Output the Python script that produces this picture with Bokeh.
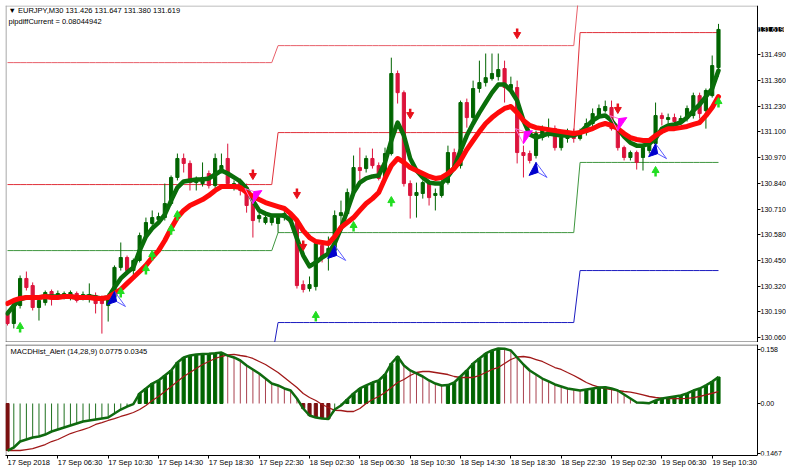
import datetime as dt
from bokeh.plotting import figure
from bokeh.models import Range1d, FixedTicker, NumeralTickFormatter, Label, ColumnDataSource
from bokeh.layouts import column
from bokeh.embed import file_html
from bokeh.resources import INLINE

# ---------------- data ----------------
symbol_title = "\u25BC EURJPY,M30  131.426 131.647 131.380 131.619"
pipdiff_title = "pipdiffCurrent = 0.08044942"
macd_title = "MACDHist_Alert (14,28,9)  0.0775 0.0345"
current_price = 131.619
start_time = dt.datetime(2018, 9, 17, 2, 30)

opens = [130.182, 130.131, 130.222, 130.359, 130.323, 130.212, 130.237, 130.293, 130.268, 130.263,
         130.263, 130.283, 130.258, 130.258, 130.273, 130.258, 130.222, 130.263, 130.415, 130.465,
         130.399, 130.450, 130.576, 130.637, 130.657, 130.667, 130.738, 130.870, 130.966, 130.941,
         130.844, 130.839, 130.890, 130.829, 130.905, 130.966, 130.824, 130.850, 130.819, 130.753,
         130.662, 130.642, 130.642, 130.637, 130.667, 130.687, 130.642, 130.328, 130.308, 130.318,
         130.526, 130.475, 130.500, 130.677, 130.687, 130.794, 130.920, 130.915, 130.966, 130.930,
         130.865, 130.991, 131.396, 131.299, 130.839, 130.779, 130.789, 130.844, 130.779, 130.779,
         130.844, 130.996, 130.930, 131.249, 131.173, 131.320, 131.350, 131.370, 131.380, 131.421,
         131.320, 131.325, 130.996, 130.991, 130.981, 131.072, 131.097, 131.117, 131.021, 131.067,
         131.097, 131.067, 131.097, 131.143, 131.183, 131.208, 131.224, 131.117, 131.021, 130.971,
         130.996, 130.971, 131.006, 131.041, 131.183, 131.163, 131.173, 131.153, 131.168, 131.183,
         131.284, 131.208, 131.284, 131.426]
highs = [130.197, 130.248, 130.374, 130.394, 130.339, 130.263, 130.298, 130.303, 130.298, 130.293,
         130.298, 130.293, 130.293, 130.334, 130.288, 130.273, 130.283, 130.425, 130.541, 130.475,
         130.460, 130.591, 130.667, 130.703, 130.692, 130.839, 130.880, 130.991, 130.991, 130.956,
         130.875, 130.946, 130.905, 130.991, 130.991, 131.041, 130.855, 130.865, 130.839, 130.768,
         130.703, 130.682, 130.677, 130.682, 130.703, 130.698, 130.652, 130.349, 130.369, 130.546,
         130.536, 130.571, 130.703, 130.753, 130.814, 130.981, 131.021, 130.981, 131.016, 130.946,
         131.021, 131.476, 131.411, 131.310, 130.855, 130.844, 130.855, 130.855, 130.814, 130.855,
         131.031, 131.016, 131.259, 131.269, 131.360, 131.461, 131.497, 131.497, 131.497, 131.461,
         131.380, 131.360, 131.031, 131.006, 131.107, 131.133, 131.168, 131.133, 131.092, 131.117,
         131.117, 131.117, 131.168, 131.219, 131.239, 131.259, 131.259, 131.133, 131.031, 131.006,
         131.006, 131.041, 131.057, 131.249, 131.198, 131.193, 131.193, 131.183, 131.234, 131.299,
         131.299, 131.320, 131.487, 131.647]
lows = [130.121, 130.106, 130.207, 130.298, 130.197, 130.146, 130.222, 130.222, 130.253, 130.253,
        130.248, 130.237, 130.248, 130.237, 130.182, 130.080, 130.141, 130.248, 130.399, 130.384,
        130.374, 130.440, 130.561, 130.622, 130.637, 130.652, 130.728, 130.855, 130.895, 130.804,
        130.804, 130.824, 130.814, 130.814, 130.895, 130.824, 130.804, 130.779, 130.692, 130.566,
        130.642, 130.632, 130.627, 130.591, 130.652, 130.627, 130.308, 130.288, 130.293, 130.298,
        130.440, 130.399, 130.485, 130.617, 130.677, 130.784, 130.855, 130.895, 130.915, 130.855,
        130.855, 130.981, 131.244, 130.824, 130.662, 130.667, 130.763, 130.728, 130.703, 130.768,
        130.834, 130.905, 130.915, 131.122, 131.158, 131.299, 131.330, 131.360, 131.360, 131.249,
        131.299, 130.941, 130.870, 130.941, 130.966, 131.057, 131.072, 131.006, 131.006, 131.046,
        131.046, 131.057, 131.082, 131.128, 131.168, 131.198, 131.107, 131.006, 130.956, 130.956,
        130.910, 130.905, 130.991, 131.026, 131.133, 131.143, 131.138, 131.138, 131.153, 131.168,
        131.168, 131.117, 131.274, 131.380]
closes = [130.131, 130.232, 130.359, 130.313, 130.212, 130.248, 130.288, 130.258, 130.283, 130.283,
          130.288, 130.248, 130.278, 130.278, 130.232, 130.232, 130.268, 130.415, 130.465, 130.399,
          130.450, 130.576, 130.642, 130.667, 130.672, 130.738, 130.870, 130.966, 130.941, 130.844,
          130.860, 130.870, 130.829, 130.966, 130.930, 130.839, 130.839, 130.804, 130.728, 130.652,
          130.677, 130.667, 130.667, 130.667, 130.687, 130.642, 130.323, 130.303, 130.328, 130.536,
          130.465, 130.511, 130.677, 130.692, 130.794, 130.920, 130.905, 130.966, 130.930, 130.865,
          130.991, 131.396, 131.299, 130.839, 130.779, 130.794, 130.844, 130.768, 130.789, 130.844,
          130.996, 130.915, 131.249, 131.173, 131.320, 131.350, 131.375, 131.396, 131.416, 131.325,
          131.340, 130.996, 130.981, 130.956, 131.092, 131.122, 131.107, 131.021, 131.072, 131.082,
          131.067, 131.097, 131.143, 131.193, 131.219, 131.229, 131.117, 131.021, 130.971, 130.996,
          130.946, 131.021, 131.041, 131.183, 131.168, 131.173, 131.153, 131.168, 131.219, 131.284,
          131.193, 131.310, 131.436, 131.619]

fast_ma = [130.182, 130.222, 130.253, 130.263, 130.263, 130.263, 130.268, 130.268, 130.268, 130.268,
           130.268, 130.263, 130.263, 130.268, 130.263, 130.258, 130.263, 130.313, 130.359, 130.389,
           130.415, 130.500, 130.571, 130.612, 130.642, 130.682, 130.753, 130.819, 130.850, 130.855,
           130.860, 130.860, 130.865, 130.885, 130.905, 130.890, 130.870, 130.850, 130.814, 130.753,
           130.703, 130.687, 130.677, 130.677, 130.677, 130.652, 130.561, 130.475, 130.420, 130.440,
           130.465, 130.485, 130.536, 130.612, 130.703, 130.794, 130.844, 130.865, 130.875, 130.880,
           130.946, 131.057, 131.148, 131.082, 130.966, 130.905, 130.870, 130.844, 130.839, 130.839,
           130.875, 130.920, 131.006, 131.082, 131.143, 131.198, 131.249, 131.299, 131.340, 131.340,
           131.310, 131.259, 131.158, 131.087, 131.072, 131.082, 131.092, 131.087, 131.082, 131.082,
           131.082, 131.097, 131.128, 131.158, 131.178, 131.183, 131.158, 131.117, 131.077, 131.046,
           131.031, 131.031, 131.041, 131.067, 131.117, 131.133, 131.138, 131.148, 131.173, 131.208,
           131.239, 131.279, 131.320, 131.411]
slow_ma = [130.232, 130.248, 130.258, 130.263, 130.263, 130.263, 130.268, 130.263, 130.263, 130.268,
           130.268, 130.263, 130.263, 130.263, 130.258, 130.258, 130.263, 130.283, 130.303, 130.334,
           130.364, 130.394, 130.425, 130.465, 130.500, 130.551, 130.612, 130.667, 130.703, 130.728,
           130.743, 130.758, 130.779, 130.804, 130.824, 130.824, 130.824, 130.819, 130.794, 130.774,
           130.758, 130.743, 130.733, 130.723, 130.713, 130.687, 130.652, 130.601, 130.566, 130.546,
           130.541, 130.536, 130.571, 130.617, 130.642, 130.667, 130.703, 130.738, 130.763, 130.794,
           130.865, 130.930, 130.966, 130.946, 130.920, 130.905, 130.890, 130.875, 130.865, 130.870,
           130.890, 130.915, 130.956, 131.011, 131.057, 131.102, 131.143, 131.173, 131.198, 131.219,
           131.229, 131.198, 131.158, 131.133, 131.122, 131.117, 131.112, 131.107, 131.102, 131.097,
           131.092, 131.097, 131.107, 131.117, 131.133, 131.143, 131.133, 131.117, 131.092, 131.072,
           131.062, 131.057, 131.057, 131.082, 131.102, 131.117, 131.117, 131.122, 131.128, 131.138,
           131.148, 131.183, 131.224, 131.279]

# daily channel levels (one value per trading day shown)
upper_far = [131.451, 131.537, 131.870]
upper_near = [130.834, 131.097, 131.603]
lower_near = [130.500, 130.591, 130.946]
lower_far = [129.950, 130.136, 130.399]

up_arrow_bars = [2, 18, 22, 23, 26, 27, 49, 55, 61, 103, 113]
up_arrow_prices = [130.106, 130.283, 130.399, 130.470, 130.601, 130.672, 130.162, 130.617, 130.743, 130.895, 131.244]
down_arrow_bars = [39, 46, 47, 64, 81, 97]
down_arrow_prices = [130.890, 130.794, 130.531, 131.198, 131.603, 131.224]
buy_signal_bars = [17, 52, 84, 103]
buy_signal_prices = [130.293, 130.526, 130.946, 131.041]
sell_signal_bars = [39, 82, 97]
sell_signal_prices = [130.738, 131.041, 131.107]

macd = [-0.1375, -0.1287, -0.1112, -0.1053, -0.0995, -0.0966, -0.0907, -0.0819, -0.0761, -0.0702,
        -0.0644, -0.0585, -0.0527, -0.0497, -0.0468, -0.0439, -0.0410, -0.0293, -0.0176, -0.0088,
        -0.0020, 0.0293, 0.0439, 0.0585, 0.0673, 0.0819, 0.0966, 0.1200, 0.1346, 0.1404,
        0.1434, 0.1445, 0.1455, 0.1470, 0.1492, 0.1400, 0.1346, 0.1258, 0.1112, 0.0995,
        0.0878, 0.0731, 0.0585, 0.0527, 0.0439, 0.0380, 0.0146, -0.0146, -0.0351, -0.0410,
        -0.0439, -0.0450, -0.0176, -0.0059, 0.0117, 0.0293, 0.0439, 0.0527, 0.0614, 0.0673,
        0.0848, 0.1170, 0.1375, 0.1112, 0.0966, 0.0878, 0.0790, 0.0673, 0.0585, 0.0527,
        0.0540, 0.0614, 0.0790, 0.0966, 0.1170, 0.1317, 0.1463, 0.1551, 0.1609, 0.1600,
        0.1551, 0.1346, 0.1141, 0.0966, 0.0848, 0.0731, 0.0644, 0.0556, 0.0497, 0.0439,
        0.0410, 0.0380, 0.0410, 0.0439, 0.0468, 0.0478, 0.0439, 0.0380, 0.0263, 0.0146,
        0.0030, 0.0020, 0.0010, 0.0088, 0.0146, 0.0176, 0.0205, 0.0234, 0.0293, 0.0380,
        0.0439, 0.0530, 0.0640, 0.0775]
signal = [-0.1375, -0.1375, -0.1375, -0.1346, -0.1317, -0.1258, -0.1200, -0.1112, -0.1053, -0.0966,
          -0.0878, -0.0819, -0.0761, -0.0702, -0.0614, -0.0556, -0.0497, -0.0439, -0.0380, -0.0322,
          -0.0263, -0.0176, -0.0059, 0.0088, 0.0205, 0.0351, 0.0497, 0.0644, 0.0790, 0.0907,
          0.1024, 0.1141, 0.1229, 0.1317, 0.1375, 0.1420, 0.1434, 0.1404, 0.1375, 0.1317,
          0.1229, 0.1141, 0.1024, 0.0907, 0.0761, 0.0614, 0.0468, 0.0293, 0.0176, 0.0088,
          -0.0029, -0.0117, -0.0200, -0.0205, -0.0234, -0.0234, -0.0146, 0.0000, 0.0117, 0.0205,
          0.0322, 0.0468, 0.0614, 0.0702, 0.0819, 0.0907, 0.0936, 0.0936, 0.0907, 0.0878,
          0.0848, 0.0790, 0.0761, 0.0761, 0.0761, 0.0819, 0.0907, 0.0995, 0.1053, 0.1170,
          0.1287, 0.1360, 0.1375, 0.1346, 0.1287, 0.1229, 0.1141, 0.1053, 0.0995, 0.0907,
          0.0820, 0.0720, 0.0614, 0.0540, 0.0480, 0.0439, 0.0410, 0.0380, 0.0351, 0.0330,
          0.0293, 0.0250, 0.0205, 0.0176, 0.0160, 0.0146, 0.0140, 0.0140, 0.0150, 0.0170,
          0.0205, 0.0250, 0.0300, 0.0345]

price_ticks = [130.060, 130.190, 130.320, 130.450, 130.580, 130.710, 130.840, 130.970,
               131.100, 131.230, 131.360, 131.490]
macd_ticks = [0.158, 0.0, -0.1467]
macd_tick_labels = ["0.158", "0.00", "0.1467"]
date_tick_bars = [0, 8, 16, 24, 32, 40, 48, 56, 64, 72, 80, 88, 96, 104, 112]
date_tick_labels = ["17 Sep 2018", "17 Sep 06:30", "17 Sep 10:30", "17 Sep 14:30", "17 Sep 18:30",
                    "17 Sep 22:30", "18 Sep 02:30", "18 Sep 06:30", "18 Sep 10:30", "18 Sep 14:30",
                    "18 Sep 18:30", "18 Sep 22:30", "19 Sep 02:30", "19 Sep 06:30", "19 Sep 10:30"]

# ---------------- layout / style ----------------
FONT = "Liberation Sans"
FS = "7.5px"
FS_SCALE = "7px"
W = 786
LEFT, TOP = 5, 5
H1 = 342            # main panel: frame y 5..342
H2 = 132            # indicator panel: frame y 344..455 + date axis
X0 = -0.32          # bar coordinate at the left border
X_AXIS = 119.2      # bar coordinate where the price scale sits (x = 757)
FRAME_W = W - LEFT  # plot area runs to the page edge; the price scale is drawn inside it
PX_X = (X_AXIS - X0) / 752.0
XR = X0 + FRAME_W * PX_X
P0, P1 = 130.035, 131.740
M0, M1 = -0.1521, 0.1726
PX_Y = (P1 - P0) / (H1 - TOP)
PX_M = (M1 - M0) / 111.0

n = len(closes)
bars = list(range(n))
times = [start_time + dt.timedelta(minutes=30 * i) for i in bars]
day_index = [(t.date() - times[0].date()).days for t in times]

x_range = Range1d(X0, XR)


def style_axis(ax, size):
    ax.axis_line_color = "black"
    ax.major_tick_line_color = "black"
    ax.major_tick_out = 3
    ax.major_tick_in = 0
    ax.minor_tick_out = 0
    ax.minor_tick_in = 0
    ax.major_label_standoff = 0
    ax.major_label_text_font = FONT
    ax.major_label_text_font_size = size
    ax.major_label_text_color = "black"


p = figure(width=W, height=H1, x_range=x_range, y_range=Range1d(P0, P1),
           output_backend="svg", toolbar_location=None,
           x_axis_location=None, y_axis_location="right",
           min_border_left=LEFT, min_border_top=TOP, min_border_bottom=0, min_border_right=0)
p.grid.visible = False
p.outline_line_color = None
ya = p.yaxis[0]
ya.ticker = FixedTicker(ticks=price_ticks)
ya.formatter = NumeralTickFormatter(format="0.000")
ya.fixed_location = X_AXIS
style_axis(ya, FS_SCALE)

# chart borders
p.segment(x0=[X0 + 0.5 * PX_X, X0, X0], x1=[X0 + 0.5 * PX_X, X_AXIS, X_AXIS],
          y0=[P0, P1 - 0.5 * PX_Y, P0 + 0.5 * PX_Y], y1=[P1, P1 - 0.5 * PX_Y, P0 + 0.5 * PX_Y],
          line_color=["#8c8c8c", "#a8a8a8", "#505050"], line_width=1)

# daily channel lines
for levels, colr in [(upper_far, "#e8606a"), (upper_near, "#e0303a"),
                     (lower_near, "#3f963f"), (lower_far, "#1c1cc0")]:
    p.line(bars, [levels[d] for d in day_index], line_color=colr, line_width=1)

# candles
is_up = [c >= o for o, c in zip(opens, closes)]
cs = ColumnDataSource(dict(
    x=bars, h=highs, l=lows,
    top=[max(o, c) for o, c in zip(opens, closes)],
    bot=[min(o, c) for o, c in zip(opens, closes)],
    color=["#006400" if u else "#dc143c" for u in is_up]))
p.segment(x0="x", y0="l", x1="x", y1="h", line_color="color", line_width=1, source=cs)
p.vbar(x="x", top="top", bottom="bot", width=0.5, fill_color="color", line_color="color",
       line_width=1, source=cs)

# moving averages
p.line(bars, fast_ma, line_color="#0a6e0a", line_width=4.5, line_join="round", line_cap="round")
p.line(bars, slow_ma, line_color="#ff0a0a", line_width=5, line_join="round", line_cap="round")

# small arrows
p.segment(x0=up_arrow_bars, x1=up_arrow_bars,
          y0=[v - 4 * PX_Y for v in up_arrow_prices], y1=[v + 1 * PX_Y for v in up_arrow_prices],
          line_color="#22dd22", line_width=2.5)
p.scatter(up_arrow_bars, [v + 2 * PX_Y for v in up_arrow_prices], marker="triangle", size=7,
          fill_color="#22dd22", line_color="#22dd22")
p.segment(x0=down_arrow_bars, x1=down_arrow_bars,
          y0=[v + 4 * PX_Y for v in down_arrow_prices], y1=[v - 1 * PX_Y for v in down_arrow_prices],
          line_color="#e8101a", line_width=2.5)
p.scatter(down_arrow_bars, [v - 2 * PX_Y for v in down_arrow_prices], marker="inverted_triangle",
          size=7, fill_color="#e8101a", line_color="#e8101a")


def shape(bx, py, pts):
    return [bx + dx * PX_X for dx, dy in pts], [py + dy * PX_Y for dx, dy in pts]


blue_fill = [(0, 0), (-7, -13), (2, -10)]
blue_line = [(0, 0), (11, -15), (2, -10)]
mag_fill = [(0, 0), (1, 12), (9, 13)]
mag_line = [(0, 0), (-8, 15), (1, 12)]

bf = [shape(b, v, blue_fill) for b, v in zip(buy_signal_bars, buy_signal_prices)]
bl = [shape(b, v, blue_line) for b, v in zip(buy_signal_bars, buy_signal_prices)]
p.patches([s[0] for s in bl], [s[1] for s in bl], fill_color=None, line_color="#5a5aff", line_width=1)
p.patches([s[0] for s in bf], [s[1] for s in bf], fill_color="#0000cd", line_color="#0000cd", line_width=1)
mf = [shape(b, v, mag_fill) for b, v in zip(sell_signal_bars, sell_signal_prices)]
ml = [shape(b, v, mag_line) for b, v in zip(sell_signal_bars, sell_signal_prices)]
p.patches([s[0] for s in ml], [s[1] for s in ml], fill_color=None, line_color="#ff70d0", line_width=1)
p.patches([s[0] for s in mf], [s[1] for s in mf], fill_color="#ff00ff", line_color="#ff00ff", line_width=1)

p.add_layout(Label(x=X0, y=P1, x_offset=3, y_offset=0, text=symbol_title, text_baseline="top",
                   text_font=FONT, text_font_size=FS, text_color="black"))
p.add_layout(Label(x=X0, y=P1, x_offset=3, y_offset=-11, text=pipdiff_title, text_baseline="top",
                   text_font=FONT, text_font_size=FS, text_color="black"))
# current-price marker on the price scale
p.add_layout(Label(x=X_AXIS, y=current_price, x_offset=1, text=f"{current_price:.3f}",
                   text_baseline="middle", text_font=FONT, text_font_size=FS_SCALE,
                   text_color="white", background_fill_color="black"))

# ---------------- MACD panel ----------------
q = figure(width=W, height=H2, x_range=x_range, y_range=Range1d(M0, M1),
           output_backend="svg", toolbar_location=None, y_axis_location="right",
           min_border_left=LEFT, min_border_top=2, min_border_bottom=19, min_border_right=0)
q.grid.visible = False
q.outline_line_color = None
qy = q.yaxis[0]
qy.ticker = FixedTicker(ticks=macd_ticks)
qy.major_label_overrides = {t: s for t, s in zip(macd_ticks, macd_tick_labels)}
qy.fixed_location = X_AXIS
style_axis(qy, FS_SCALE)
qx = q.xaxis[0]
qx.ticker = FixedTicker(ticks=date_tick_bars)
qx.major_label_overrides = {t: s for t, s in zip(date_tick_bars, date_tick_labels)}
style_axis(qx, FS)
qx.bounds = (X0, X_AXIS)
qx.major_label_orientation = -1e-6
qx.major_label_standoff = 4

q.segment(x0=[X0 + 0.5 * PX_X, X0], x1=[X0 + 0.5 * PX_X, X_AXIS],
          y0=[M0, M1 - 0.5 * PX_M], y1=[M1, M1 - 0.5 * PX_M],
          line_color=["#8c8c8c", "#505050"], line_width=1)

rising = [False] + [macd[i] > macd[i - 1] for i in range(1, n)]
thick_up = [i for i in bars if macd[i] > 0 and rising[i]]
thick_dn = [i for i in bars if macd[i] <= 0 and not rising[i]]
thin_pos = [i for i in bars if macd[i] > 0 and not rising[i]]
thin_neg = [i for i in bars if macd[i] <= 0 and rising[i]]

q.segment(x0=thin_pos, x1=thin_pos, y0=[0] * len(thin_pos), y1=[macd[i] for i in thin_pos],
          line_color="#a8404e", line_width=1)
q.segment(x0=thin_neg, x1=thin_neg, y0=[0] * len(thin_neg), y1=[macd[i] for i in thin_neg],
          line_color="#1e701e", line_width=1)
q.vbar(x=thick_up, top=[macd[i] for i in thick_up], bottom=0, width=0.5,
       fill_color="#006400", line_color="#006400")
q.vbar(x=thick_dn, top=[macd[i] for i in thick_dn], bottom=0, width=0.5,
       fill_color="#7a1010", line_color="#7a1010")
q.line(bars, signal, line_color="#a01818", line_width=1.3)
q.line(bars, macd, line_color="#0f6a0f", line_width=2.5, line_join="round")

q.add_layout(Label(x=X0, y=M1, x_offset=5, y_offset=-2, text=macd_title, text_baseline="top",
                   text_font=FONT, text_font_size=FS, text_color="black"))

layout = column(p, q, spacing=0)
with open("out.html", "w") as f:
    f.write(file_html(layout, INLINE))
